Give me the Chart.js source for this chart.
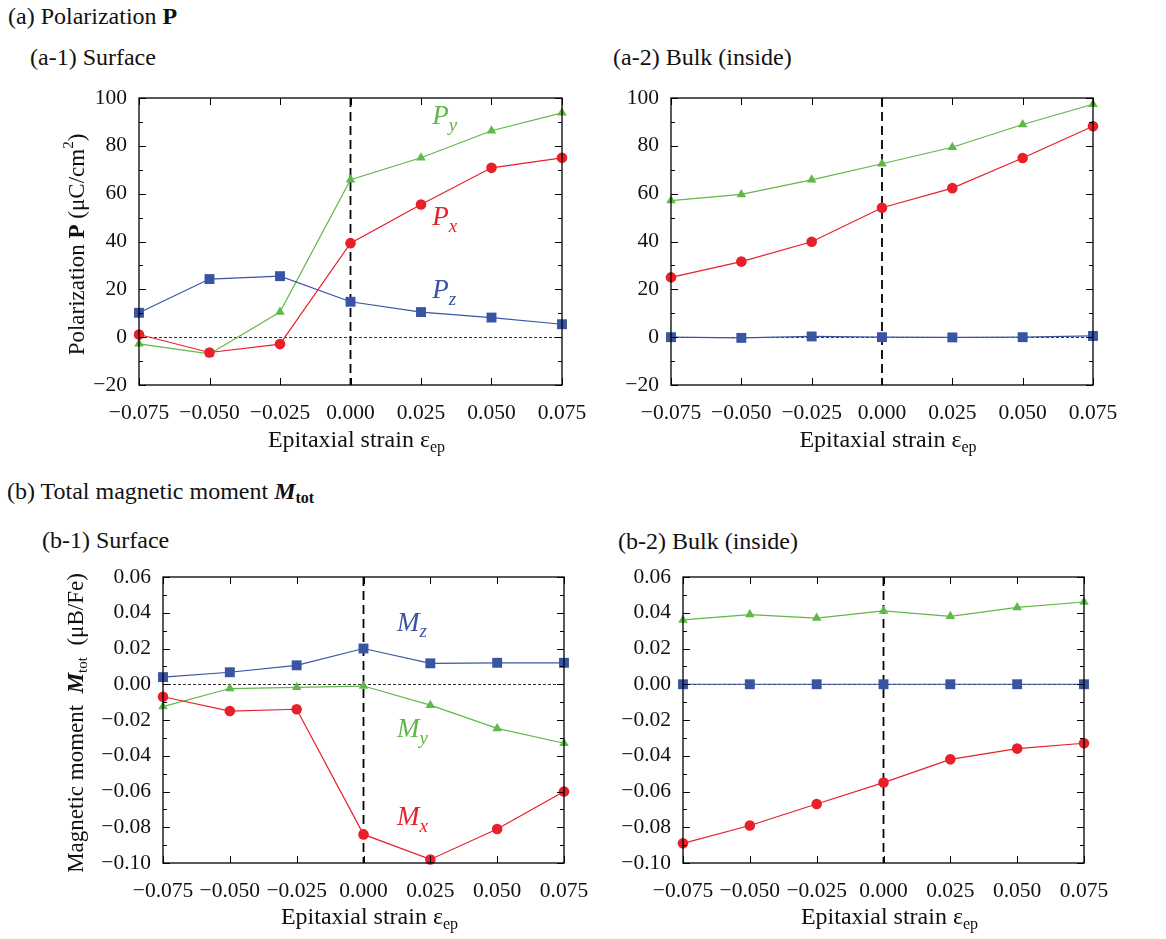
<!DOCTYPE html>
<html lang="en">
<head>
<meta charset="utf-8">
<script src="https://cdn.jsdelivr.net/npm/chart.js@4.4.1/dist/chart.umd.min.js"></script>
<style>
  body { margin: 0; background: #fff; }
  #page { position: relative; width: 1166px; height: 939px; font-family: "Liberation Serif", serif; color: #111; }
  .ttl { position: absolute; font-size: 24px; white-space: nowrap; line-height: 1; }
  .ttl sub { font-size: 16px; vertical-align: -4px; }
  canvas { position: absolute; }
</style>
</head>
<body>
<div id="page">
  <div class="ttl" style="left:8px; top:4px;">(a) Polarization <b>P</b></div>
  <div class="ttl" style="left:30px; top:45px;">(a-1) Surface</div>
  <div class="ttl" style="left:613px; top:45px;">(a-2) Bulk (inside)</div>
  <div class="ttl" style="left:7px; top:479px;">(b) Total magnetic moment <b><i>M</i><sub>tot</sub></b></div>
  <div class="ttl" style="left:42px; top:528px;">(b-1) Surface</div>
  <div class="ttl" style="left:618px; top:529px;">(b-2) Bulk (inside)</div>
  <canvas id="a1" width="600" height="400" style="left:0px; top:70px;"></canvas>
  <canvas id="a2" width="566" height="400" style="left:600px; top:70px;"></canvas>
  <canvas id="b1" width="600" height="384" style="left:0px; top:555px;"></canvas>
  <canvas id="b2" width="566" height="384" style="left:600px; top:555px;"></canvas>
</div>
<script>
// epitaxial strain values (x)
var strain = [-0.075, -0.05, -0.025, 0, 0.025, 0.05, 0.075];

// (a-1) surface polarization, uC/cm2
var surfPx = [1.1, -6.4, -2.9, 39.3, 55.5, 70.8, 75.0];
var surfPy = [-2.8, -7.0, 10.5, 65.8, 75.0, 86.3, 93.8];
var surfPz = [10.2, 24.3, 25.5, 14.8, 10.5, 8.2, 5.4];

// (a-2) bulk polarization
var bulkPx = [25.0, 31.6, 39.9, 54.1, 62.3, 74.9, 88.2];
var bulkPy = [57.1, 59.7, 65.8, 72.5, 79.4, 88.9, 97.4];
var bulkPz = [0.0, -0.3, 0.3, 0.0, -0.1, 0.0, 0.5];

// (b-1) surface magnetic moment, uB/Fe
var surfMx = [-0.007, -0.015, -0.014, -0.084, -0.098, -0.081, -0.060];
var surfMy = [-0.0125, -0.0024, -0.0017, -0.0010, -0.0117, -0.0247, -0.0330];
var surfMz = [0.004, 0.0067, 0.0106, 0.020, 0.0117, 0.012, 0.012];

// (b-2) bulk magnetic moment
var bulkMx = [-0.089, -0.079, -0.067, -0.055, -0.042, -0.036, -0.033];
var bulkMy = [0.036, 0.039, 0.037, 0.041, 0.038, 0.043, 0.046];
var bulkMz = [0, 0, 0, 0, 0, 0, 0];

var RED = "#e8202a", GREEN = "#5fb847", BLUE = "#3a54a4";
var FONT = "'Liberation Serif', serif";

function pts(ys) {
  return strain.map(function(x, i) { return {x: x, y: ys[i]}; });
}

function series(ys, color, style, r) {
  return {
    data: pts(ys), borderColor: color, backgroundColor: color, borderWidth: 1.2,
    pointStyle: style, pointRadius: r, pointBorderWidth: 0, tension: 0, clip: false
  };
}

function minus(s) { return s.replace("-", "\u2212"); }

// text pieces [{t, font, dy}] drawn one after the other
function richWidth(ctx, parts) {
  var w = 0;
  parts.forEach(function(p) { ctx.font = p.font; w += ctx.measureText(p.t).width; });
  return w;
}
function richDraw(ctx, parts, x, y) {
  parts.forEach(function(p) {
    ctx.font = p.font;
    ctx.fillText(p.t, x, y + (p.dy || 0));
    x += ctx.measureText(p.t).width;
  });
}

var framePlugin = {
  id: "frame",
  beforeDatasetsDraw: function(chart) {
    var ctx = chart.ctx, a = chart.chartArea;
    var xs = chart.scales.x, ys = chart.scales.y;
    ctx.save();
    // zero line
    var y0 = Math.round(ys.getPixelForValue(0)) + 0.5;
    ctx.strokeStyle = "#333"; ctx.lineWidth = 1; ctx.setLineDash([3, 2]);
    ctx.beginPath(); ctx.moveTo(a.left, y0); ctx.lineTo(a.right, y0); ctx.stroke();
    // zero strain
    var x0 = xs.getPixelForValue(0);
    ctx.strokeStyle = "#000"; ctx.lineWidth = 1.8; ctx.setLineDash([9, 5]);
    ctx.beginPath(); ctx.moveTo(x0, a.top); ctx.lineTo(x0, a.bottom); ctx.stroke();
    ctx.restore();
  },
  afterDraw: function(chart, args, o) {
    var ctx = chart.ctx, a = chart.chartArea;
    var xs = chart.scales.x, ys = chart.scales.y;
    ctx.save();
    ctx.strokeStyle = "#000"; ctx.lineWidth = 1.3; ctx.setLineDash([]);
    ctx.strokeRect(a.left, a.top, a.right - a.left, a.bottom - a.top);
    ctx.lineWidth = 1;
    ctx.beginPath();
    xs.ticks.forEach(function(t) {
      var px = Math.round(xs.getPixelForValue(t.value)) + 0.5;
      ctx.moveTo(px, a.bottom); ctx.lineTo(px, a.bottom - 7);
      ctx.moveTo(px, a.top); ctx.lineTo(px, a.top + 7);
    });
    var step = o.yStep / 2;
    for (var v = ys.min; v <= ys.max + step / 10; v += step) {
      var py = Math.round(ys.getPixelForValue(v)) + 0.5;
      var major = Math.abs(Math.round((v - ys.min) / step)) % 2 === 0;
      var len = major ? 7 : 4;
      ctx.moveTo(a.left, py); ctx.lineTo(a.left + len, py);
      ctx.moveTo(a.right, py); ctx.lineTo(a.right - len, py);
    }
    ctx.stroke();

    ctx.fillStyle = "#111";
    ctx.textBaseline = "middle"; ctx.textAlign = "left";
    // x title
    var wx = richWidth(ctx, o.xTitle);
    richDraw(ctx, o.xTitle, (a.left + a.right) / 2 - wx / 2 + 6, o.xTitleY);
    // y title
    if (o.yTitle) {
      ctx.save();
      ctx.translate(o.yTitleX, (a.top + a.bottom) / 2 + 3);
      ctx.rotate(-Math.PI / 2);
      var wy = richWidth(ctx, o.yTitle);
      richDraw(ctx, o.yTitle, -wy / 2, 0);
      ctx.restore();
    }
    // series labels
    (o.labels || []).forEach(function(l) {
      ctx.fillStyle = l.color;
      var lx = xs.getPixelForValue(l.x), ly = ys.getPixelForValue(l.y);
      richDraw(ctx, [
        {t: l.main, font: "italic 27px " + FONT},
        {t: l.sub, font: "italic 19px " + FONT, dy: 9}
      ], lx, ly);
    });
    ctx.restore();
  }
};

var N = "23px " + FONT, S = "15px " + FONT;
var xTitle = [{t: "Epitaxial strain \u03b5", font: "24px " + FONT}, {t: "ep", font: "16px " + FONT, dy: 7}];

function makePanel(id, cv, plot, yMin, yMax, yStep, digits, datasets, extra) {
  var c = document.getElementById(id);
  var yW = plot.l - cv.x, xH = cv.y + cv.h - plot.b;
  var frameOpts = Object.assign({}, extra, {
    yStep: yStep, xTitle: xTitle,
    xTitleY: extra.xTitleY - cv.y, yTitleX: extra.yTitleX - cv.x
  });
  new Chart(c, {
    type: "line",
    data: {datasets: datasets},
    options: {
      responsive: false, animation: false, devicePixelRatio: 1,
      layout: {padding: {left: 0, top: plot.t - cv.y, right: cv.x + cv.w - plot.r, bottom: 0}},
      plugins: {legend: {display: false}, tooltip: {enabled: false}, frame: frameOpts},
      scales: {
        x: {
          type: "linear", min: -0.075, max: 0.075,
          grid: {display: false}, border: {display: false},
          ticks: {
            stepSize: 0.025, autoSkip: false, maxRotation: 0, padding: 7,
            color: "#111", font: {family: FONT, size: 21.5},
            callback: function(v) { if (Math.abs(v) < 1e-9) v = 0; return minus(v.toFixed(3)); }
          },
          afterFit: function(s) { s.height = xH; }
        },
        y: {
          min: yMin, max: yMax,
          grid: {display: false}, border: {display: false},
          ticks: {
            stepSize: yStep, padding: 4, color: "#111", font: {family: FONT, size: 21.5},
            callback: function(v) { if (Math.abs(v) < 1e-9) v = 0; return minus(v.toFixed(digits)); }
          },
          afterFit: function(s) { s.width = yW; }
        }
      }
    },
    plugins: [framePlugin]
  });
}

makePanel("a1", {x: 0, y: 70, w: 600, h: 400}, {l: 139, r: 562, t: 98, b: 385}, -20, 100, 20, 0, [
  series(surfPz, BLUE, "rect", 7),
  series(surfPx, RED, "circle", 5.3),
  series(surfPy, GREEN, "triangle", 5.5)
], {
  xTitleY: 441, yTitleX: 78,
  yTitle: [{t: "Polarization ", font: N}, {t: "P", font: "bold " + N}, {t: " (\u03bcC/cm", font: N},
           {t: "2", font: S, dy: -9}, {t: ")", font: N}],
  labels: [
    {x: 0.029, y: 92, main: "P", sub: "y", color: GREEN},
    {x: 0.029, y: 50, main: "P", sub: "x", color: RED},
    {x: 0.029, y: 19.5, main: "P", sub: "z", color: BLUE}
  ]
});

makePanel("a2", {x: 600, y: 70, w: 566, h: 400}, {l: 671, r: 1093, t: 98, b: 385}, -20, 100, 20, 0, [
  series(bulkPz, BLUE, "rect", 7),
  series(bulkPx, RED, "circle", 5.3),
  series(bulkPy, GREEN, "triangle", 5.5)
], {xTitleY: 441, yTitleX: 600});

makePanel("b1", {x: 0, y: 555, w: 600, h: 384}, {l: 163, r: 564, t: 577, b: 863}, -0.10, 0.06, 0.02, 2, [
  series(surfMz, BLUE, "rect", 7),
  series(surfMx, RED, "circle", 5.3),
  series(surfMy, GREEN, "triangle", 5.5)
], {
  xTitleY: 918, yTitleX: 77,
  yTitle: [{t: "Magnetic moment  ", font: N}, {t: "M", font: "italic bold " + N}, {t: "tot", font: S, dy: 6},
           {t: "  (\u03bcB/Fe)", font: N}],
  labels: [
    {x: 0.0125, y: 0.034, main: "M", sub: "z", color: BLUE},
    {x: 0.0125, y: -0.0255, main: "M", sub: "y", color: GREEN},
    {x: 0.0125, y: -0.075, main: "M", sub: "x", color: RED}
  ]
});

makePanel("b2", {x: 600, y: 555, w: 566, h: 384}, {l: 683, r: 1084, t: 577, b: 863}, -0.10, 0.06, 0.02, 2, [
  series(bulkMz, BLUE, "rect", 7),
  series(bulkMx, RED, "circle", 5.3),
  series(bulkMy, GREEN, "triangle", 5.5)
], {xTitleY: 918, yTitleX: 600});
</script>
</body>
</html>
